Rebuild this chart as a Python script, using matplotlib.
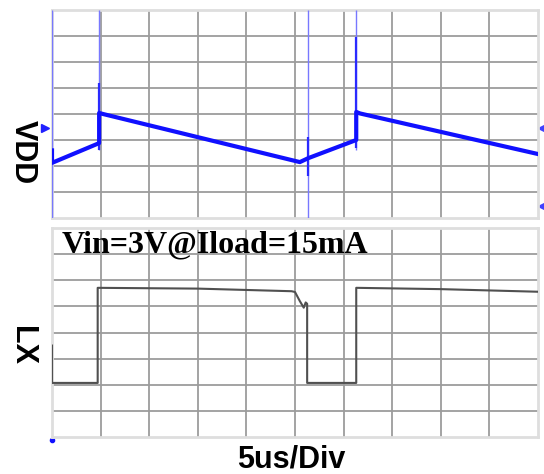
import numpy as np
import matplotlib
matplotlib.use('Agg')
import matplotlib.pyplot as plt

# scope traces, in divisions (x: 0..10, y: 0..8 per channel)
vdd_x = [0.0, 0.0, 0.97, 0.97, 1.05, 5.1, 5.27, 6.26, 6.26, 6.34, 10.0]
vdd_y = [2.6, 2.12, 2.88, 4.04, 4.0, 2.15, 2.3, 3.0, 4.08, 4.02, 2.46]

# spikes on VDD: faint full spikes and the brighter part of them
spike_x = [0.0, 0.97, 5.27, 6.26]
spike_lo = [0.0, 2.6, 0.0, 2.6]
spike_hi = [8.0, 8.0, 8.0, 8.0]
spike2_x = [0.97, 5.27, 6.26]
spike2_lo = [2.6, 1.6, 2.7]
spike2_hi = [5.2, 3.1, 6.96]

lx_x = [0.0, 0.0, 0.94, 0.94, 3.0, 4.93, 5.0, 5.1, 5.18, 5.22, 5.25, 5.25, 6.26, 6.26, 8.0, 10.0]
lx_y = [3.5, 2.07, 2.07, 5.71, 5.68, 5.58, 5.55, 5.2, 4.95, 5.15, 5.1, 2.07, 2.07, 5.71, 5.66, 5.56]

W, H = 544, 474
fig = plt.figure(figsize=(W / 100, H / 100), dpi=100)

def px(x0, y0, x1, y1):
    return [x0 / W, 1 - y1 / H, (x1 - x0) / W, (y1 - y0) / H]

ax1 = fig.add_axes(px(52, 10, 538, 218))
ax2 = fig.add_axes(px(52, 228, 538, 437))

for ax in (ax1, ax2):
    ax.set_xlim(0, 10)
    ax.set_ylim(0, 8)
    ax.set_xticks(np.arange(1, 10))
    ax.set_yticks(np.arange(1, 8))
    ax.grid(True, color='#9c9c9c', lw=1.3)
    ax.tick_params(length=0, labelbottom=False, labelleft=False)
    for s in ax.spines.values():
        s.set_color('#dedede')
        s.set_linewidth(2)
    ax.set_axisbelow(True)

ax1.vlines(spike_x, spike_lo, spike_hi, color='#7878ff', lw=1.0, zorder=3)
ax1.vlines(spike2_x, spike2_lo, spike2_hi, color='#2a2aff', lw=1.6, zorder=3)
ax1.plot(vdd_x, vdd_y, color='#1010ff', lw=3.0, solid_joinstyle='round', zorder=4)
ax1.plot([-0.14], [3.47], marker='>', color='#2020ff', ms=6, clip_on=False)
ax1.plot([10.06], [3.45], marker='<', color='#4040ff', ms=5, clip_on=False)
ax1.plot([10.06], [0.45], marker='<', color='#4040ff', ms=5, clip_on=False)

ax2.plot(lx_x, lx_y, color='#505050', lw=1.5, zorder=4)
ax2.plot([0], [-0.1], marker='o', color='#1010ff', ms=3, clip_on=False)

sans = ['Liberation Sans', 'DejaVu Sans']
fig.text(23 / W, 1 - 152 / H, 'VDD', rotation=-90, ha='center', va='center',
         fontsize=22, fontweight='bold', family=sans)
fig.text(22 / W, 1 - 346 / H, 'LX', rotation=-90, ha='center', va='center',
         fontsize=22, fontweight='bold', family=sans)
fig.text(291 / W, 1 - 459 / H, '5us/Div', ha='center', va='center',
         fontsize=22, fontweight='bold', family=sans)
fig.text(62 / W, 1 - 252 / H, 'Vin=3V@Iload=15mA', ha='left', va='baseline',
         fontsize=23, fontweight='bold', family=['Liberation Serif', 'DejaVu Serif'])

fig.savefig('out.png', dpi=100)
